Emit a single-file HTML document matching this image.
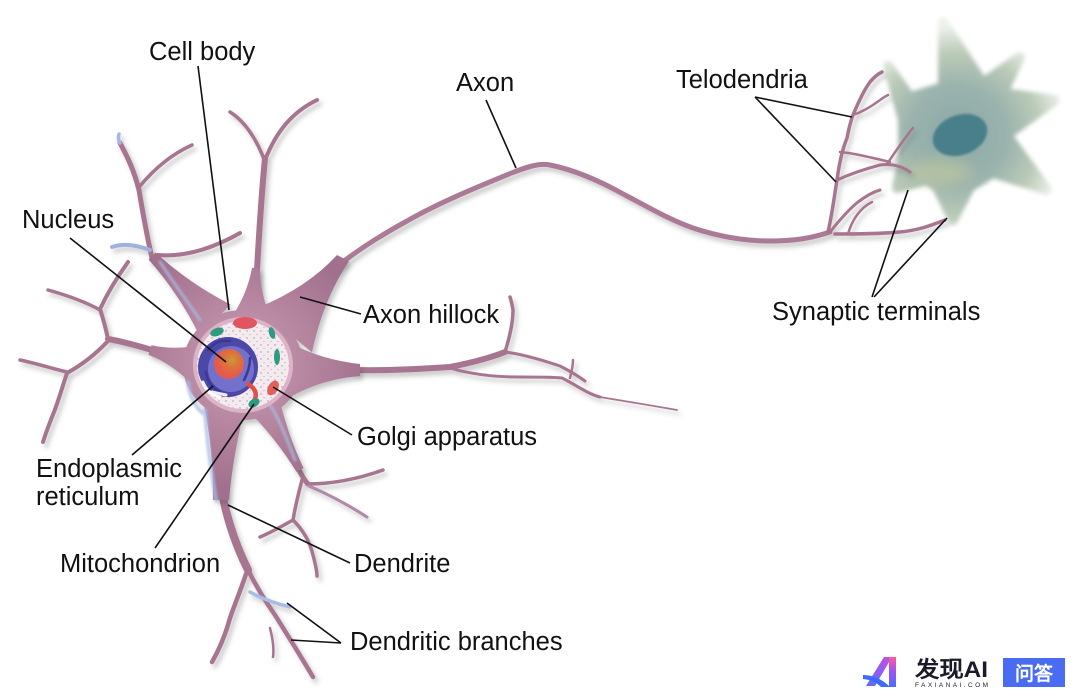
<!DOCTYPE html>
<html><head><meta charset="utf-8"><style>
html,body{margin:0;padding:0;background:#fff;}
svg{display:block;}
text{font-family:"Liberation Sans",Arial,sans-serif;}
</style></head><body>
<svg width="1080" height="697" viewBox="0 0 1080 697" xmlns="http://www.w3.org/2000/svg">
<defs>
  <filter id="ds" x="-10%" y="-10%" width="120%" height="120%">
    <feDropShadow dx="3" dy="4" stdDeviation="2.5" flood-color="#444" flood-opacity="0.3"/>
  </filter>
  <filter id="soft" x="-20%" y="-20%" width="140%" height="140%">
    <feGaussianBlur stdDeviation="2.2"/>
  </filter>
  <filter id="soft4" x="-30%" y="-30%" width="160%" height="160%">
    <feGaussianBlur stdDeviation="6"/>
  </filter>
  <filter id="soft1"><feGaussianBlur stdDeviation="1"/></filter>
  <radialGradient id="somaG" cx="243" cy="362" r="130" gradientUnits="userSpaceOnUse">
    <stop offset="0" stop-color="#c9a0ba"/>
    <stop offset="0.5" stop-color="#b6859f"/>
    <stop offset="1" stop-color="#a06f8d"/>
  </radialGradient>
  <radialGradient id="cellG" cx="958" cy="135" r="110" gradientUnits="userSpaceOnUse">
    <stop offset="0" stop-color="#8aa7a8"/>
    <stop offset="0.45" stop-color="#9bb3ad"/>
    <stop offset="0.75" stop-color="#bccbb8"/>
    <stop offset="1" stop-color="#eef2ee"/>
  </radialGradient>
  <radialGradient id="nucG" cx="232" cy="360" r="16" gradientUnits="userSpaceOnUse">
    <stop offset="0" stop-color="#c89a3a"/>
    <stop offset="0.5" stop-color="#e0703c"/>
    <stop offset="1" stop-color="#e55a4a"/>
  </radialGradient>
  <pattern id="dots" width="7" height="7" patternUnits="userSpaceOnUse">
    <circle cx="2" cy="2" r="0.7" fill="#a58bc0"/>
    <circle cx="5" cy="5.5" r="0.6" fill="#c79ab0"/>
  </pattern>
  <linearGradient id="lgI" x1="0" y1="0" x2="0" y2="1">
    <stop offset="0" stop-color="#ff5aa0"/>
    <stop offset="0.5" stop-color="#9b55f0"/>
    <stop offset="1" stop-color="#4a6cff"/>
  </linearGradient>
  <linearGradient id="lgA" x1="1" y1="0" x2="0" y2="1">
    <stop offset="0" stop-color="#c84fe0"/>
    <stop offset="1" stop-color="#5a6cff"/>
  </linearGradient>
</defs>

<!-- target cell -->
<g filter="url(#soft)">
  <path d="M943,22 L983,83 L1020,57 L1003,93 L1055,100 L1007,135 L1047,190 L993,173 L970,187 L953,220 L937,187 L927,180 L897,188 L903,157 L903,120 L888,66 L910,97 L943,87 Z" fill="url(#cellG)" stroke="url(#cellG)" stroke-width="10" stroke-linejoin="round"/>
</g>
<ellipse cx="940" cy="172" rx="32" ry="14" fill="#d6d69a" opacity="0.4" filter="url(#soft4)"/>
<ellipse cx="960" cy="135" rx="28" ry="20" transform="rotate(-20 960 135)" fill="#4a7f8a" filter="url(#soft1)"/>

<!-- dendrites, axon -->
<g filter="url(#ds)" fill="none" stroke="#a7748f" stroke-linecap="round" stroke-linejoin="round">
  <!-- upper-left -->
  <path d="M152,258 C146,232 142,208 139,190 C134,170 127,156 120,143" stroke-width="5"/>
  <path d="M120,143 C118,140 118,137 119,134" stroke="#a9b6e0" stroke-width="3.5"/>
  <path d="M140,186 C155,168 172,154 192,145" stroke-width="3.5"/>
  <path d="M158,255 C182,257 210,250 240,233" stroke-width="4"/>
  <path d="M150,250 C136,245 124,243 112,247" stroke="#9fb2de" stroke-width="4"/>
  <!-- upper -->
  <path d="M256,290 C258,250 261,200 265,158" stroke-width="6"/>
  <path d="M265,160 C276,132 292,112 317,100" stroke-width="4"/>
  <path d="M265,162 C258,142 246,122 230,112" stroke-width="3.5"/>
  <!-- left -->
  <path d="M152,350 C132,344 120,341 108,339" stroke-width="6"/>
  <path d="M108,339 C105,325 102,315 100,309 C108,292 118,276 128,262" stroke-width="4"/>
  <path d="M100,310 C84,301 66,295 48,290" stroke-width="3.5"/>
  <path d="M108,341 C92,358 78,367 67,373 C62,388 58,402 54,412 C50,422 46,432 43,442" stroke-width="4"/>
  <path d="M67,372 C50,368 35,363 20,360" stroke-width="3.5"/>
  <!-- bottom -->
  <path d="M220,480 C224,510 234,542 248,570" stroke-width="8"/>
  <path d="M248,570 C258,590 268,605 275,615 C288,636 300,655 313,677" stroke-width="4.5"/>
  <path d="M246,574 C240,592 234,606 230,618 C225,636 219,650 212,662" stroke-width="4.5"/>
  <path d="M250,592 C264,600 278,604 290,607" stroke="#a9bce4" stroke-width="3.5"/>
  <path d="M270,628 C273,640 274,650 273,657" stroke-width="2.5"/>
  <!-- lower right -->
  <path d="M298,468 C302,476 305,481 308,484" stroke-width="5"/>
  <path d="M307,484 C330,484 355,480 383,470" stroke-width="3.5"/>
  <path d="M309,486 C330,495 350,506 367,517" stroke-width="3" stroke="#b08aa8"/>
  <path d="M302,480 C298,495 295,508 293,520 C282,526 272,532 260,537" stroke-width="3.5"/>
  <path d="M293,520 C303,530 310,542 313,555 C315,563 317,570 317,576" stroke-width="3.5"/>
  <!-- right -->
  <path d="M355,370 C385,371 420,369 450,367 C470,363 490,358 505,352" stroke-width="6"/>
  <path d="M505,352 C510,336 513,322 513,310 C512,304 511,300 510,297" stroke-width="3.5"/>
  <path d="M505,352 C522,354 542,360 560,366 C570,371 578,376 585,381" stroke-width="3"/>
  <path d="M450,368 C470,374 495,377 520,377 C540,377 552,377 562,378 C578,386 588,394 600,397" stroke-width="3"/>
  <path d="M600,397 C630,402 655,406 677,410" stroke-width="1.8"/>
  <path d="M570,378 C572,370 573,365 573,360" stroke-width="2.5"/>
  <!-- axon -->
  <path d="M335,268 C360,248 385,233 407,221 C440,202 480,186 514,172 C530,166 540,163 550,165 C575,170 600,181 625,195 C650,208 670,220 693,228 C720,237 745,241 770,241 C795,241 812,238 830,232" stroke-width="5" stroke="#ab7a96"/>
  <!-- telodendria -->
  <path d="M828,232 C832,215 834,198 837,180 C839,165 842,150 847,138 C849,128 851,120 853,115 C858,103 864,90 870,82 C874,77 878,74 882,72" stroke-width="3.5"/>
  <path d="M853,115 C862,112 872,106 880,100 C884,97 886,96 888,95" stroke-width="2.5"/>
  <path d="M837,180 C850,174 865,169 880,165 C893,163 903,167 910,172" stroke-width="3"/>
  <path d="M887,164 C893,155 900,145 906,137 C909,133 911,130 913,128" stroke-width="2.5"/>
  <path d="M840,152 C852,153 865,156 890,162" stroke-width="2.5"/>
  <path d="M830,232 C838,222 848,210 858,202 C866,196 873,192 880,190" stroke-width="3"/>
  <path d="M835,234 C855,234 880,234 900,232 C920,230 932,225 945,220" stroke-width="3.5"/>
  <path d="M848,234 C852,220 860,208 872,202" stroke-width="2.5"/>
</g>

<!-- soma -->
<g filter="url(#ds)" fill="url(#somaG)">
  <path d="M230.6,304.6 Q188.5,283 155.5,252.5 L148.5,259.5 Q178.5,293 199.4,335.4 Z"/>
  <path d="M270,316.5 Q260,292 260,268.3 L252,267.7 Q248,291 234,313.5 Z"/>
  <path d="M312,352.4 Q322.7,300.4 348.9,261.2 L337,255 Q307.3,287.6 258,307.6 Z"/>
  <path d="M290,343 Q322,360 360,364 L360,376 Q322,379 290,397 Z"/>
  <path d="M277.8,391.4 Q286.3,432.1 303.5,468.1 L296.5,471.9 Q275.7,437.9 246.2,408.6 Z"/>
  <path d="M247,400 Q233.5,450 229,500 L213,500 Q213.5,450 203,400 Z"/>
  <path d="M206.4,343.9 Q177,350.8 151.5,345.2 L148.5,354.8 Q173,364.2 193.6,386.1 Z"/>
  <ellipse cx="243" cy="365" rx="60" ry="55"/>
</g>
<g fill="none" stroke="#a9bde6" stroke-linecap="round" opacity="0.75" filter="url(#soft1)">
  <path d="M205,410 C207,440 211,470 216,500" stroke-width="4"/>
  <path d="M188,382 C190,398 196,408 204,414" stroke-width="4"/>
  <path d="M270,405 C280,420 287,440 295,460" stroke-width="3"/>
  <path d="M160,262 C175,285 190,305 200,320" stroke-width="3"/>
</g>

<!-- cut-away -->
<ellipse cx="243" cy="365" rx="48" ry="46" fill="#f4ebef" stroke="#dcb3c7" stroke-width="4"/>
<ellipse cx="243" cy="365" rx="46" ry="44" fill="url(#dots)"/>
<circle cx="228" cy="367" r="30" fill="#4c48a8"/>
<circle cx="231" cy="369" r="23" fill="#7471cc"/>
<g fill="none" stroke="#3c3896" stroke-width="2.5" stroke-linecap="round">
  <path d="M208,350 C214,342 222,340 230,341"/>
  <path d="M206,372 C207,382 212,388 220,392"/>
  <path d="M244,380 C248,372 250,366 250,358"/>
</g>
<g fill="none" stroke="#fff" stroke-width="3" stroke-linecap="round" opacity="0.9">
  <path d="M203,382 C206,390 212,395 220,397"/>
  <path d="M212,392 L226,395"/>
</g>
<path d="M248,384 C255,388 258,394 254,401" stroke="#e0504a" stroke-width="4.5" fill="none" stroke-linecap="round"/>
<circle cx="229" cy="364" r="15" fill="url(#nucG)"/>
<ellipse cx="245" cy="323" rx="12" ry="6" fill="#e05560"/>
<ellipse cx="273" cy="388" rx="5" ry="8" transform="rotate(30 273 388)" fill="#e0605a"/>
<ellipse cx="217" cy="332" rx="7" ry="4" transform="rotate(-20 217 332)" fill="#2e9a82"/>
<ellipse cx="272" cy="333" rx="3" ry="6" transform="rotate(-15 272 333)" fill="#2e9a82"/>
<ellipse cx="277" cy="357" rx="3" ry="8" fill="#2e9a82"/>
<ellipse cx="254" cy="403" rx="6" ry="4" transform="rotate(-30 254 403)" fill="#2e9a82"/>

<!-- label lines -->
<g stroke="#111" stroke-width="1.6" fill="none">
  <line x1="198" y1="66" x2="229" y2="310"/>
  <line x1="70" y1="238" x2="226" y2="362"/>
  <line x1="486" y1="100" x2="516" y2="168"/>
  <line x1="755" y1="97" x2="852" y2="117"/>
  <line x1="755" y1="97" x2="836" y2="182"/>
  <line x1="300" y1="297" x2="361" y2="314"/>
  <line x1="273" y1="387" x2="352" y2="435"/>
  <line x1="213" y1="386" x2="132" y2="455"/>
  <line x1="254" y1="404" x2="155" y2="548"/>
  <line x1="228" y1="505" x2="350" y2="563"/>
  <line x1="341" y1="643" x2="287" y2="603"/>
  <line x1="341" y1="643" x2="291" y2="640"/>
  <line x1="872" y1="297" x2="908" y2="190"/>
  <line x1="874" y1="297" x2="947" y2="218"/>
</g>

<!-- labels -->
<g font-size="25.5" fill="#111">
  <text x="149" y="60">Cell body</text>
  <text x="22" y="228">Nucleus</text>
  <text x="456" y="91">Axon</text>
  <text x="676" y="88">Telodendria</text>
  <text x="363" y="323">Axon hillock</text>
  <text x="772" y="320">Synaptic terminals</text>
  <text x="357" y="445">Golgi apparatus</text>
  <text x="36" y="477">Endoplasmic</text>
  <text x="36" y="505">reticulum</text>
  <text x="60" y="572">Mitochondrion</text>
  <text x="354" y="572">Dendrite</text>
  <text x="350" y="650">Dendritic branches</text>
</g>

<!-- watermark -->
<g>
  <polygon points="866,686 884,657 892,657 875,686" fill="url(#lgA)"/>
  <rect x="889" y="657" width="7" height="30" fill="url(#lgI)"/>
  <path d="M863,675 Q878,675 890,687 L881,687 Q874,680 863,679 Z" fill="#3b6cff"/>
  <text x="915" y="677" font-family="'Liberation Sans','Noto Sans CJK SC',sans-serif" font-size="22" font-weight="bold" fill="#1a1a2a" textLength="73" lengthAdjust="spacingAndGlyphs">发现AI</text>
  <text x="915" y="687" font-size="6.5" fill="#1a1a2a" textLength="73" lengthAdjust="spacing">FAXIANAI.COM</text>
  <rect x="1003" y="658" width="62" height="29" fill="#4a6cf2"/>
  <text x="1034" y="680" text-anchor="middle" font-family="'Liberation Sans','Noto Sans CJK SC',sans-serif" font-size="19" font-weight="bold" fill="#fff">问答</text>
</g>
</svg>
</body></html>
